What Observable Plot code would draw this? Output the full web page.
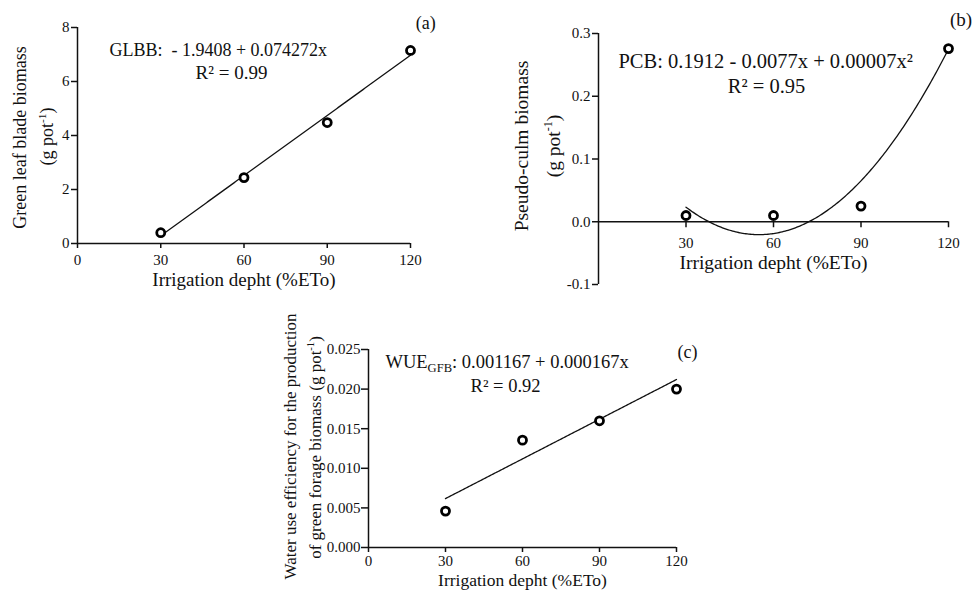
<!DOCTYPE html>
<html>
<head>
<meta charset="utf-8">
<script src="https://cdn.jsdelivr.net/npm/d3@7"></script>
<script src="https://cdn.jsdelivr.net/npm/@observablehq/plot@0.6"></script>
<style>
  html, body { margin: 0; padding: 0; background: white; }
  #wrap { position: relative; width: 972px; height: 591px; overflow: hidden; background: white; }
  .panel { position: absolute; }
  .panel svg { max-width: none !important; overflow: visible; }
</style>
</head>
<body>
<div id="wrap">
  <div class="panel" id="pa" style="left:0px;top:0px;width:440px;height:300px"></div>
  <div class="panel" id="pb" style="left:480px;top:0px;width:492px;height:300px"></div>
  <div class="panel" id="pc" style="left:250px;top:300px;width:470px;height:291px"></div>
</div>
<script>
// ---- data ----
const irrigation = [30, 60, 90, 120];          // % ETo
const glbb = [0.40, 2.44, 4.48, 7.15];         // green leaf blade biomass (g pot-1)
const pcb = [0.010, 0.010, 0.025, 0.276];      // pseudo-culm biomass (g pot-1)
const wue = [0.0046, 0.01355, 0.0160, 0.0200]; // WUE for green forage biomass

// regression coefficients printed on the chart
const glbbCoef = [-1.9408, 0.074272];
const pcbCoef = [0.1912, -0.0077, 0.00007];
const wueCoef = [0.001167, 0.000167];

const xTicks = [0, 30, 60, 90, 120];
const xTicksB = [30, 60, 90, 120];
const yTicksA = [0, 2, 4, 6, 8];
const yTicksB = [-0.1, 0.0, 0.1, 0.2, 0.3];
const yTicksC = [0.000, 0.005, 0.010, 0.015, 0.020, 0.025];

const xTitle = "Irrigation depht (%ETo)";
const eqA = ["GLBB:  - 1.9408 + 0.074272x", "R² = 0.99"];
const eqB = ["PCB: 0.1912 - 0.0077x + 0.00007x²", "R² = 0.95"];
const eqC = ["WUE_{GFB}: 0.001167 + 0.000167x", "R² = 0.92"];

const poly = (c, x) => c.reduce((s, a, i) => s + a * Math.pow(x, i), 0);
const fitX = d3.range(30, 120.001, 0.5);
const fitPts = (c) => fitX.map(x => ({x, y: poly(c, x)}));
const pts = (vals) => irrigation.map((x, i) => ({x, y: vals[i]}));

const FONT = "'Liberation Serif', 'Times New Roman', Times, serif";
const INK = "#111";
const TICKFS = 15;
const AXW = 1.5;

// convert ^{..} and _{..} markup into real tspans
function richify(svg) {
  d3.select(svg).selectAll("text").each(function () {
    const s = this.textContent;
    if (!/[\^_]\{/.test(s)) return;
    const fs = parseFloat(getComputedStyle(this).fontSize) || 16;
    const el = d3.select(this);
    el.text(null);
    let cur = 0;
    const add = (txt, off, small) => {
      if (!txt) return;
      const t = el.append("tspan").text(txt);
      if (off !== cur) { t.attr("dy", off - cur); cur = off; }
      if (small) t.attr("font-size", small);
    };
    const re = /([\^_])\{([^}]*)\}/g;
    let last = 0, m;
    while ((m = re.exec(s))) {
      add(s.slice(last, m.index), 0);
      if (m[1] === "^") add(m[2], -fs * 0.38, fs * 0.62);
      else add(m[2], fs * 0.22, fs * 0.68);
      last = m.index + m[0].length;
    }
    add(s.slice(last), 0);
  });
}

function basePlot(o) {
  return Plot.plot({
    width: o.width, height: o.height,
    marginLeft: o.ml, marginRight: o.mr, marginTop: o.mt, marginBottom: o.mb,
    style: {fontFamily: FONT, fontSize: TICKFS + "px", color: INK, background: "white", overflow: "visible"},
    x: {domain: [0, 120]},
    y: {domain: o.ydomain},
    marks: o.marks
  });
}

// ---------- panel (a) ----------
const A = basePlot({
  width: 430, height: 300, ml: 77, mr: 20, mt: 27, mb: 57,
  ydomain: [0, 8],
  marks: [
    Plot.ruleX([0], {stroke: INK, strokeWidth: AXW}),
    Plot.ruleY([0], {stroke: INK, strokeWidth: AXW}),
    Plot.axisY({ticks: yTicksA, tickSize: 6, tickPadding: 2, tickFormat: d => String(d), fontSize: TICKFS, label: null, stroke: INK, strokeWidth: AXW}),
    Plot.axisX({ticks: xTicks, tickSize: 5, tickPadding: 6, tickFormat: d => String(d), fontSize: TICKFS, label: null, stroke: INK, strokeWidth: AXW}),
    Plot.line(fitPts(glbbCoef), {x: "x", y: "y", stroke: INK, strokeWidth: 1.3}),
    Plot.dot(pts(glbb), {x: "x", y: "y", r: 4, stroke: "black", strokeWidth: 2.8, fill: "white"}),
    Plot.text([eqA[0]], {text: d => d, x: 11.5, y: 7.15, textAnchor: "start", fontSize: 18, fill: INK}),
    Plot.text([eqA[1]], {text: d => d, x: 55.5, y: 6.33, textAnchor: "middle", fontSize: 19, fill: INK}),
    Plot.text(["(a)"], {text: d => d, x: 125.5, y: 8.15, textAnchor: "middle", fontSize: 18, fill: INK}),
    Plot.text(["Green leaf blade biomass"], {text: d => d, frameAnchor: "left", rotate: -90, dx: -57, dy: 2, textAnchor: "middle", fontSize: 18, fill: INK}),
    Plot.text(["(g pot^{-1})"], {text: d => d, frameAnchor: "left", rotate: -90, dx: -30, dy: 1, textAnchor: "middle", fontSize: 18, fill: INK}),
    Plot.text([xTitle], {text: d => d, frameAnchor: "bottom", dy: 42, fontSize: 19, fill: INK})
  ]
});

// ---------- panel (b) ----------
const bInner = 300 - 33 - 16;
const bShift = -bInner * (0 - (-0.1)) / 0.4;
const B = basePlot({
  width: 488, height: 300, ml: 118, mr: 20, mt: 33, mb: 16,
  ydomain: [-0.1, 0.3],
  marks: [
    Plot.ruleX([0], {stroke: INK, strokeWidth: AXW}),
    Plot.ruleY([0], {stroke: INK, strokeWidth: AXW}),
    Plot.axisY({ticks: yTicksB, tickSize: 6, tickPadding: 2, tickFormat: d => d.toFixed(1), fontSize: TICKFS, label: null, stroke: INK, strokeWidth: AXW}),
    Plot.axisX({ticks: xTicksB, tickSize: 6, tickPadding: 10, tickFormat: d => String(d), fontSize: TICKFS, label: null, dy: bShift, stroke: INK, strokeWidth: AXW}),
    Plot.line(fitPts(pcbCoef), {x: "x", y: "y", stroke: INK, strokeWidth: 1.3, curve: "natural"}),
    Plot.dot(pts(pcb), {x: "x", y: "y", r: 4, stroke: "black", strokeWidth: 2.8, fill: "white"}),
    Plot.text([eqB[0]], {text: d => d, x: 57.3, y: 0.2556, textAnchor: "middle", fontSize: 20.5, fill: INK}),
    Plot.text([eqB[1]], {text: d => d, x: 57.6, y: 0.216, textAnchor: "middle", fontSize: 20.5, fill: INK}),
    Plot.text(["(b)"], {text: d => d, x: 124.3, y: 0.322, textAnchor: "middle", fontSize: 19, fill: INK}),
    Plot.text(["Pseudo-culm biomass"], {text: d => d, frameAnchor: "left", rotate: -90, dx: -77, dy: -13, textAnchor: "middle", fontSize: 19.5, fill: INK}),
    Plot.text(["(g pot^{-1})"], {text: d => d, frameAnchor: "left", rotate: -90, dx: -45, dy: -13, textAnchor: "middle", fontSize: 19.5, fill: INK}),
    Plot.text([xTitle], {text: d => d, frameAnchor: "bottom", dy: bShift + 47, fontSize: 19.5, fill: INK})
  ]
});

// ---------- panel (c) ----------
const C = basePlot({
  width: 466, height: 291, ml: 118, mr: 40, mt: 49, mb: 44,
  ydomain: [0, 0.025],
  marks: [
    Plot.ruleX([0], {stroke: INK, strokeWidth: AXW}),
    Plot.ruleY([0], {stroke: INK, strokeWidth: AXW}),
    Plot.axisY({ticks: yTicksC, tickSize: 7, tickPadding: 1, tickFormat: d => d.toFixed(3), fontSize: TICKFS, label: null, stroke: INK, strokeWidth: AXW}),
    Plot.axisX({ticks: xTicks, tickSize: 5, tickPadding: 3, tickFormat: d => String(d), fontSize: TICKFS, label: null, stroke: INK, strokeWidth: AXW}),
    Plot.line(fitPts(wueCoef), {x: "x", y: "y", stroke: INK, strokeWidth: 1.3}),
    Plot.dot(pts(wue), {x: "x", y: "y", r: 4, stroke: "black", strokeWidth: 2.8, fill: "white"}),
    Plot.text([eqC[0]], {text: d => d, x: 6.6, y: 0.02336, textAnchor: "start", fontSize: 18.5, fill: INK}),
    Plot.text([eqC[1]], {text: d => d, x: 53.4, y: 0.0204, textAnchor: "middle", fontSize: 18.5, fill: INK}),
    Plot.text(["(c)"], {text: d => d, x: 124.3, y: 0.0247, textAnchor: "middle", fontSize: 18, fill: INK}),
    Plot.text(["Water use efficiency for the production"], {text: d => d, frameAnchor: "left", rotate: -90, dx: -78, dy: -2, textAnchor: "middle", fontSize: 17, fill: INK}),
    Plot.text(["of green forage biomass (g pot^{-1})"], {text: d => d, frameAnchor: "left", rotate: -90, dx: -53, dy: -1, textAnchor: "middle", fontSize: 17, fill: INK}),
    Plot.text([xTitle], {text: d => d, frameAnchor: "bottom", dy: 38, fontSize: 17.5, fill: INK})
  ]
});

document.getElementById("pa").appendChild(A);
document.getElementById("pb").appendChild(B);
document.getElementById("pc").appendChild(C);
[A, B, C].forEach(richify);
</script>
</body>
</html>
